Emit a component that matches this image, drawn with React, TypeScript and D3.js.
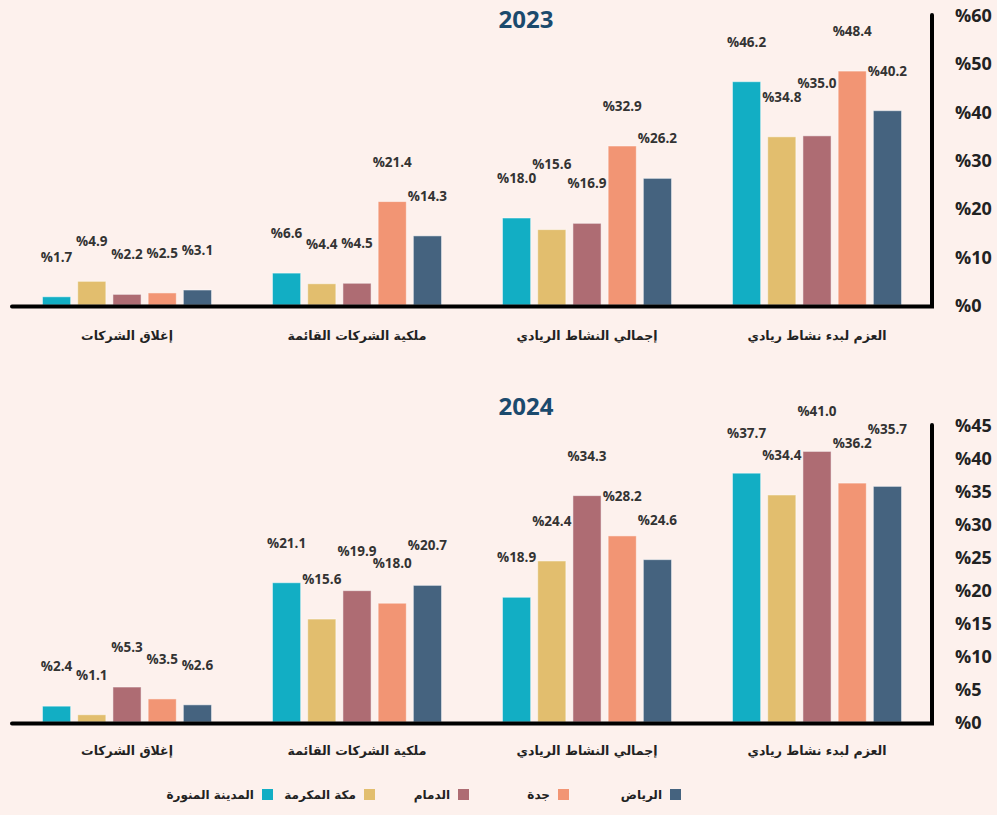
import React from 'react';
import * as d3 from 'd3';

// categories, right to left as read in the original
const categories = ['العزم لبدء نشاط ريادي', 'إجمالي النشاط الريادي', 'ملكية الشركات القائمة', 'إغلاق الشركات'];

// series (legend order, right to left)
const seriesNames = ['الرياض', 'جدة', 'الدمام', 'مكة المكرمة', 'المدينة المنورة'];
const seriesColors = ['#45637f', '#f29574', '#ae6c73', '#e2be6e', '#12aec4'];

// values per city, in the same order as categories
const riyadh2023 = [40.2, 26.2, 14.3, 3.1];
const jeddah2023 = [48.4, 32.9, 21.4, 2.5];
const dammam2023 = [35.0, 16.9, 4.5, 2.2];
const makkah2023 = [34.8, 15.6, 4.4, 4.9];
const madinah2023 = [46.2, 18.0, 6.6, 1.7];

const riyadh2024 = [35.7, 24.6, 20.7, 2.6];
const jeddah2024 = [36.2, 28.2, 18.0, 3.5];
const dammam2024 = [41.0, 34.3, 19.9, 5.3];
const makkah2024 = [34.4, 24.4, 15.6, 1.1];
const madinah2024 = [37.7, 18.9, 21.1, 2.4];

const ticks2023 = [0, 10, 20, 30, 40, 50, 60];
const ticks2024 = [0, 5, 10, 15, 20, 25, 30, 35, 40, 45];

const W = 997;
const H = 815;
const BG = '#fdf1ed';
const INK = '#222';
const ARABIC = '"DejaVu Sans", sans-serif';
const NUM = '"Open Sans", "DejaVu Sans", sans-serif';

const plotLeft = 12;
const plotRight = 932;

type Panel = {
  title: string;
  series: number[][]; // in seriesNames order
  ticks: number[];
  top: number;
  bottom: number;
  titleY: number;
  catY: number;
};

const panels: Panel[] = [
  {
    title: '2023',
    series: [riyadh2023, jeddah2023, dammam2023, makkah2023, madinah2023],
    ticks: ticks2023,
    top: 15,
    bottom: 305,
    titleY: 18,
    catY: 335,
  },
  {
    title: '2024',
    series: [riyadh2024, jeddah2024, dammam2024, makkah2024, madinah2024],
    ticks: ticks2024,
    top: 425,
    bottom: 722,
    titleY: 405,
    catY: 750,
  },
];

// bars are drawn left to right, i.e. reversed from reading order
const catLTR = categories.slice().reverse();
const seriesLTR = seriesNames.slice().reverse();

function ChartPanel({ p }: { p: Panel }) {
  const max = p.ticks[p.ticks.length - 1];
  const y = d3.scaleLinear().domain([0, max]).range([p.bottom, p.top]);
  const x0 = d3.scaleBand<string>().domain(catLTR).range([plotLeft, plotRight]);
  const groupW = x0.bandwidth() * 0.735;
  const x1 = d3.scaleBand<string>().domain(seriesLTR).range([0, groupW]).paddingInner(0.2);
  const off = (x0.bandwidth() - groupW) / 2;

  const groups = catLTR.map((cat) => {
    const ci = categories.indexOf(cat);
    const placed: { cx: number; y: number; w: number }[] = [];
    const bars = seriesLTR.map((s) => {
      const si = seriesNames.indexOf(s);
      const v = p.series[si][ci];
      const bx = (x0(cat) as number) + off + (x1(s) as number);
      const cx = bx + x1.bandwidth() / 2;
      const label = '%' + v.toFixed(1);
      const w = label.length * 8;
      let ly = y(v) - 40;
      // nudge up labels that would collide with a neighbour
      let moved = true;
      while (moved) {
        moved = false;
        for (const q of placed) {
          if (Math.abs(cx - q.cx) < (w + q.w) / 2 && Math.abs(ly - q.y) < 12) {
            ly = q.y - 14;
            moved = true;
          }
        }
      }
      placed.push({ cx, y: ly, w });
      return { s, si, v, bx, cx, ly, label };
    });
    return { cat, bars };
  });

  return (
    <g>
      <text x={526} y={p.titleY} textAnchor="middle" dominantBaseline="central"
        fontFamily={NUM} fontWeight={700} fontSize={24} fill="#1b4a6d">{p.title}</text>
      {groups.map((g) => (
        <g key={g.cat}>
          {g.bars.map((b) => (
            <g key={b.s}>
              <rect x={b.bx} y={y(b.v)} width={x1.bandwidth()} height={y(0) - y(b.v)}
                fill={seriesColors[b.si]} stroke="#fff" strokeOpacity={0.5} strokeWidth={1} />
              <text x={b.cx} y={b.ly} textAnchor="middle" dominantBaseline="central"
                fontFamily={NUM} fontWeight={700} fontSize={13.5} fill="#333" direction="ltr">{b.label}</text>
            </g>
          ))}
          <text x={(x0(g.cat) as number) + x0.bandwidth() / 2} y={p.catY} textAnchor="middle"
            dominantBaseline="central" fontFamily={ARABIC} fontWeight={700} fontSize={12.5} fill={INK}>{g.cat}</text>
        </g>
      ))}
      <path d={`M${plotLeft},${y(0) + 1.5}H${plotRight}V${p.top}`} fill="none" stroke="#000"
        strokeWidth={4} strokeLinecap="round" strokeLinejoin="miter" />
      {p.ticks.map((t) => (
        <text key={t} x={955} y={y(t)} dominantBaseline="central" fontFamily={NUM}
          fontWeight={700} fontSize={18} fill={INK} direction="ltr">{'%' + t}</text>
      ))}
    </g>
  );
}

// legend anchors (square left edges), right to left
const legendX = [670, 558, 458, 364, 262];

export default function App() {
  return (
    <svg width={W} height={H} style={{ position: 'absolute', left: 0, top: 0 }}>
      <rect width={W} height={H} fill={BG} />
      {panels.map((p) => (
        <ChartPanel key={p.title} p={p} />
      ))}
      {seriesNames.map((s, i) => (
        <g key={s}>
          <rect x={legendX[i]} y={789} width={11} height={11} fill={seriesColors[i]} />
          <text x={legendX[i] - 8} y={795} textAnchor="end" dominantBaseline="central"
            fontFamily={ARABIC} fontWeight={700} fontSize={12} fill={INK}>{s}</text>
        </g>
      ))}
    </svg>
  );
}
